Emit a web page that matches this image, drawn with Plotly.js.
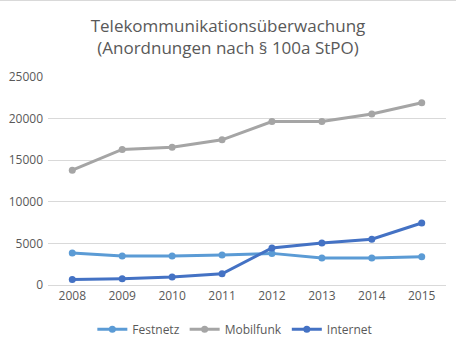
<!DOCTYPE html>
<html>
<head>
<meta charset="utf-8">
<script src="https://cdn.plot.ly/plotly-3.0.1.min.js"></script>
<style>
html,body{margin:0;padding:0;background:#fff;}
#chart{width:456px;height:349px;}
#topline{position:absolute;left:0;top:0;width:456px;height:1px;background:#d9d9d9;}
</style>
</head>
<body>
<div id="chart"></div>
<div id="topline"></div>
<script>
const years = ['2008','2009','2010','2011','2012','2013','2014','2015'];
const festnetz = [3850, 3500, 3500, 3600, 3800, 3250, 3250, 3400];
const mobilfunk = [13800, 16300, 16550, 17450, 19650, 19650, 20550, 21900];
const internet = [650, 750, 950, 1350, 4450, 5050, 5500, 7450];
const seriesNames = ['Festnetz', 'Mobilfunk', 'Internet'];
const seriesColors = ['#5B9BD5', '#A5A5A5', '#4472C4'];
const yTicks = [0, 5000, 10000, 15000, 20000, 25000];

const allSeries = [festnetz, mobilfunk, internet];
const traces = allSeries.map((vals, i) => ({
  type: 'scatter',
  mode: 'lines+markers',
  x: years,
  y: vals,
  name: seriesNames[i],
  line: {color: seriesColors[i], width: 3},
  marker: {color: seriesColors[i], size: 7},
  hoverinfo: 'x+y+name'
}));

const layout = {
  width: 456,
  height: 349,
  paper_bgcolor: '#ffffff',
  plot_bgcolor: '#ffffff',
  font: {family: 'Open Sans, Liberation Sans, sans-serif', color: '#595959', size: 12},
  title: {
    text: 'Telekommunikationsüberwachung<br>(Anordnungen nach § 100a StPO)',
    font: {size: 17, color: '#595959', family: 'Open Sans, Liberation Sans, sans-serif'},
    x: 0.5, xanchor: 'center',
    y: 0.909, yanchor: 'middle',
    yref: 'container'
  },
  margin: {l: 48, r: 10, t: 77, b: 64},
  showlegend: true,
  legend: {
    orientation: 'h',
    x: 0.515, xanchor: 'center', xref: 'container',
    y: 0.098, yanchor: 'top', yref: 'container',
    font: {size: 12, color: '#595959'},
    itemwidth: 30,
    traceorder: 'normal'
  },
  xaxis: {
    type: 'category',
    showgrid: false,
    showline: true,
    linecolor: '#d9d9d9',
    linewidth: 1,
    ticks: '',
    tickfont: {size: 12, color: '#595959'},
    zeroline: false
  },
  yaxis: {
    range: [0, 25000],
    tickvals: yTicks,
    ticktext: yTicks.map(String),
    showgrid: true,
    gridcolor: '#d9d9d9',
    gridwidth: 1,
    zeroline: false,
    showline: false,
    ticks: '',
    tickfont: {size: 12, color: '#595959'},
    ticklabelstandoff: 4
  }
};

Plotly.newPlot('chart', traces, layout, {displayModeBar: false, staticPlot: true});
</script>
</body>
</html>
